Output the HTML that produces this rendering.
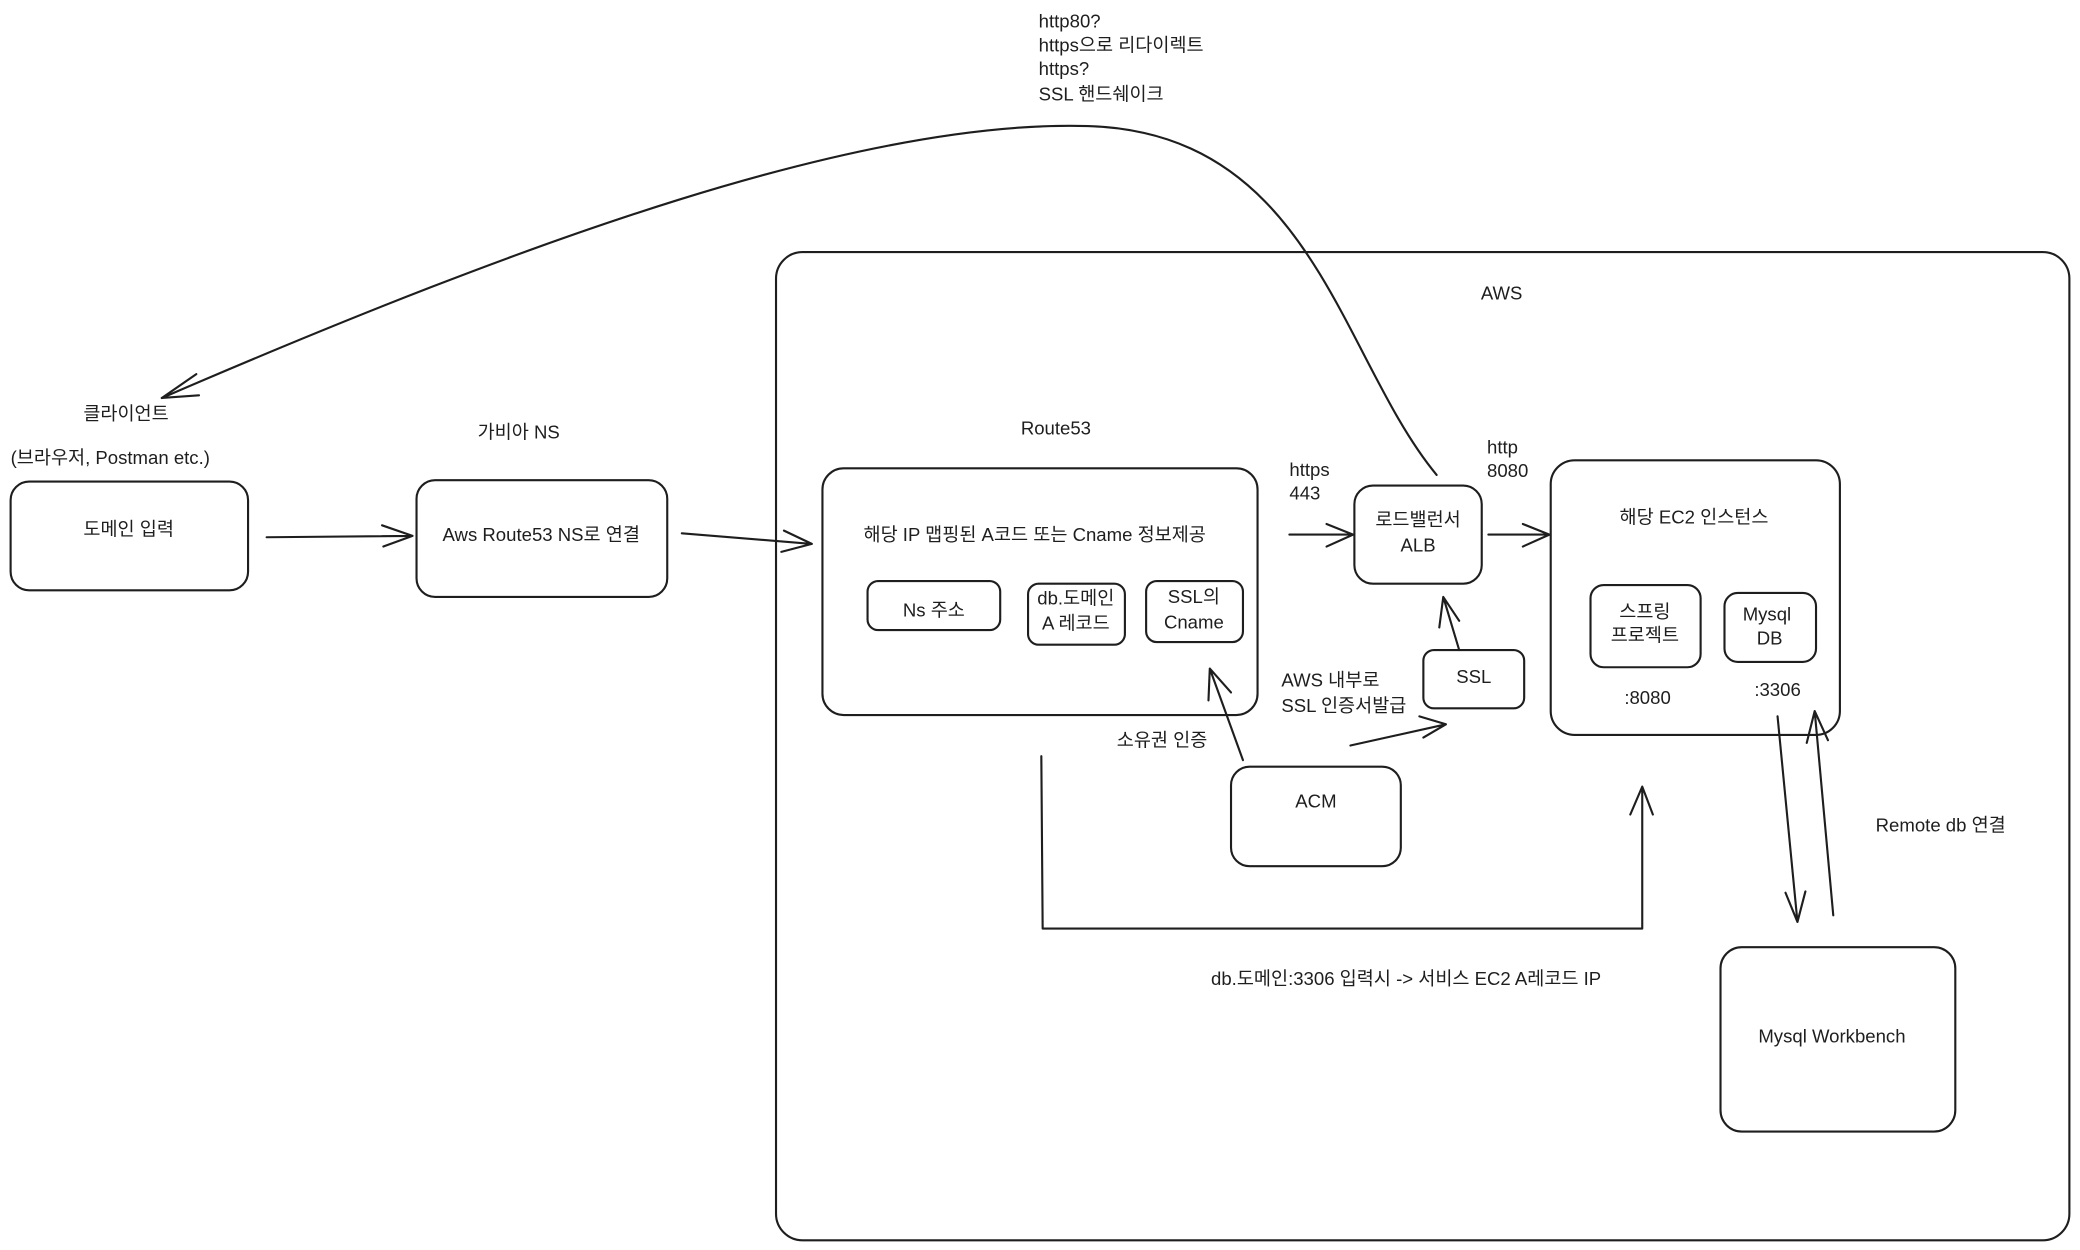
<!DOCTYPE html>
<html><head><meta charset="utf-8"><style>
html,body{margin:0;padding:0;background:#fff;width:2080px;height:1250px;overflow:hidden}
svg{display:block}
text{font-family:"Liberation Sans","Noto Sans CJK KR",sans-serif;font-size:14px;fill:#1e1e1e;text-anchor:middle;dominant-baseline:middle}
.b{fill:none;stroke:#1e1e1e;stroke-width:1.6;stroke-linecap:round;stroke-linejoin:round}
</style></head><body>
<svg width="2080" height="1250" viewBox="0 0 1568 942.3" xmlns="http://www.w3.org/2000/svg">
<g class="b">
<rect x="585" y="190" width="975" height="745" rx="20"/>
<rect x="8" y="363" width="179" height="82" rx="14"/>
<rect x="314" y="362" width="189" height="88" rx="14"/>
<rect x="620" y="353" width="328" height="186" rx="16"/>
<rect x="654" y="438" width="100" height="37" rx="8"/>
<rect x="775" y="440" width="73" height="46" rx="8"/>
<rect x="864" y="438" width="73" height="46" rx="8"/>
<rect x="1021" y="366" width="96" height="74" rx="14"/>
<rect x="1073" y="490" width="76" height="44" rx="8"/>
<rect x="928" y="578" width="128" height="75" rx="14"/>
<rect x="1169" y="347" width="218" height="207" rx="18"/>
<rect x="1199" y="441" width="83" height="62" rx="10"/>
<rect x="1300" y="447" width="69" height="52" rx="10"/>
<rect x="1297" y="714" width="177" height="139" rx="16"/>
<path d="M1083,358 C1010,270 990,100 820,95 C650,90 400,180 122,300"/>
<path d="M148,282 L122,300 L150,298"/>
<path d="M201,405 L311,404 M288,396 L311,404 L289,412"/>
<path d="M514,402 L612,410 M591,400 L612,410 L589,416"/>
<path d="M972,403 L1020,403 M1000,395 L1020,403 L1000,412"/>
<path d="M1122,403 L1168,403 M1148,395 L1168,403 L1148,412"/>
<path d="M1100,490 L1088,450 M1085,473 L1088,450 L1100,468"/>
<path d="M1018,562 L1090,546 M1070,540 L1090,546 L1073,556"/>
<path d="M937,573 L912,504 M911,528 L912,504 L928,522"/>
<path d="M785,570 L786,700 L1238,700 L1238,593 M1229,614 L1238,593 L1246,614"/>
<path d="M1340,540 L1355,695 M1346,673 L1355,695 L1361,672"/>
<path d="M1382,690 L1368,536 M1362,560 L1368,536 L1378,558"/>
</g>
<text x="783" y="17" style="text-anchor:start">http80?</text>
<text x="783" y="35" style="text-anchor:start">https으로 리다이렉트</text>
<text x="783" y="53" style="text-anchor:start">https?</text>
<text x="783" y="72" style="text-anchor:start">SSL 핸드쉐이크</text>
<text x="1132" y="222">AWS</text>
<text x="95" y="313">클라이언트</text>
<text x="8" y="346" style="text-anchor:start">(브라우저, Postman etc.)</text>
<text x="391" y="327">가비아 NS</text>
<text x="796" y="324">Route53</text>
<text x="97" y="400">도메인 입력</text>
<text x="408" y="404">Aws Route53 NS로 연결</text>
<text x="780" y="404">해당 IP 맵핑된 A코드 또는 Cname 정보제공</text>
<text x="704" y="461">Ns 주소</text>
<text x="811" y="452">db.도메인</text>
<text x="811" y="471">A 레코드</text>
<text x="900" y="451">SSL의</text>
<text x="900" y="470">Cname</text>
<text x="972" y="355" style="text-anchor:start">https</text>
<text x="972" y="373" style="text-anchor:start">443</text>
<text x="1121" y="338" style="text-anchor:start">http</text>
<text x="1121" y="356" style="text-anchor:start">8080</text>
<text x="1069" y="393">로드밸런서</text>
<text x="1069" y="412">ALB</text>
<text x="1111" y="511">SSL</text>
<text x="966" y="514" style="text-anchor:start">AWS 내부로</text>
<text x="966" y="533" style="text-anchor:start">SSL 인증서발급</text>
<text x="876" y="559">소유권 인증</text>
<text x="992" y="605">ACM</text>
<text x="1277" y="391">해당 EC2 인스턴스</text>
<text x="1240" y="462">스프링</text>
<text x="1240" y="480">프로젝트</text>
<text x="1332" y="464">Mysql</text>
<text x="1334" y="482">DB</text>
<text x="1242" y="527">:8080</text>
<text x="1340" y="521">:3306</text>
<text x="1463" y="623">Remote db 연결</text>
<text x="1060" y="739">db.도메인:3306 입력시 -&gt; 서비스 EC2 A레코드 IP</text>
<text x="1381" y="782">Mysql Workbench</text>
</svg>
</body></html>
